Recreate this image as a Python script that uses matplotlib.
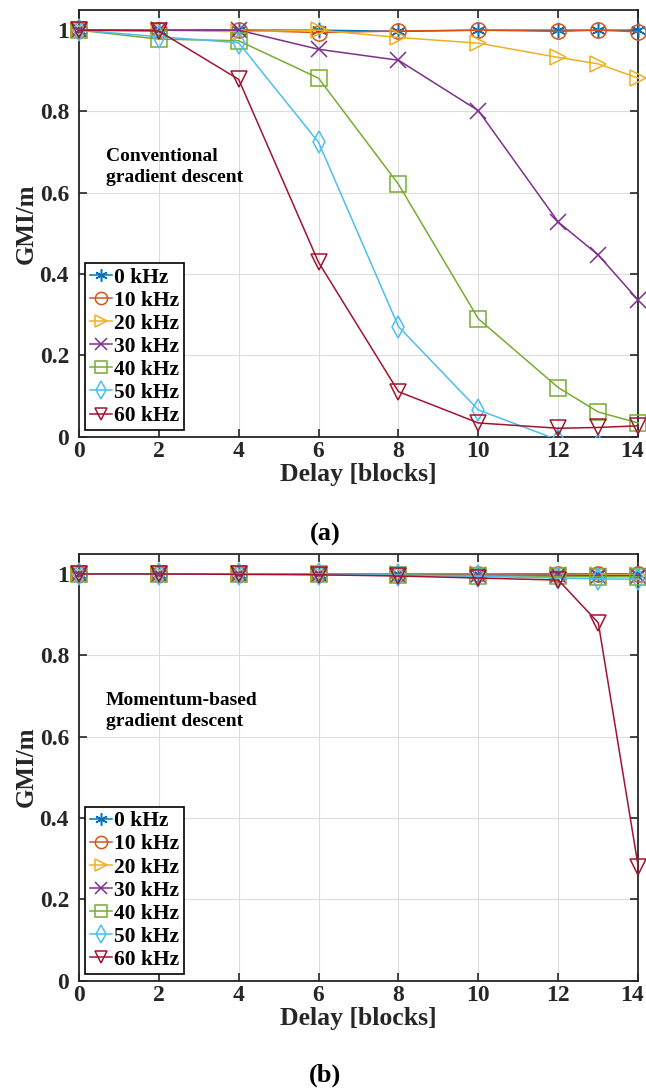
import matplotlib
matplotlib.use('Agg')
import matplotlib.pyplot as plt
import matplotlib.transforms as mtransforms
from matplotlib.patches import Rectangle

plt.rcParams['font.family'] = ['Liberation Serif', 'DejaVu Serif']
plt.rcParams['font.weight'] = 'bold'

delay = [0, 2, 4, 6, 8, 10, 12, 13, 14]
labels = ['0 kHz', '10 kHz', '20 kHz', '30 kHz', '40 kHz', '50 kHz', '60 kHz']

# (a) conventional gradient descent
conv = [
    [1.0, 1.0, 1.0, 1.0, 0.997, 1.0, 1.0, 1.0, 1.0],
    [1.0, 1.0, 1.0, 0.994, 0.998, 1.0, 0.997, 1.0, 0.996],
    [1.0, 1.0, 0.996, 1.0, 0.982, 0.968, 0.933, 0.917, 0.882],
    [1.0, 1.0, 1.0, 0.953, 0.926, 0.802, 0.528, 0.447, 0.336],
    [1.0, 0.978, 0.974, 0.882, 0.621, 0.290, 0.121, 0.061, 0.034],
    [1.0, 0.984, 0.969, 0.724, 0.271, 0.066, -0.008, -0.02, -0.03],
    [1.0, 0.998, 0.879, 0.429, 0.111, 0.034, 0.021, 0.023, 0.027],
]

# (b) momentum-based gradient descent
mom = [
    [1.0, 1.0, 1.0, 1.0, 1.0, 1.0, 1.0, 1.0, 1.0],
    [1.0, 1.0, 1.0, 1.0, 1.0, 1.0, 0.999, 0.999, 0.999],
    [1.0, 1.0, 1.0, 1.0, 0.999, 0.999, 0.998, 0.998, 0.998],
    [1.0, 1.0, 1.0, 0.999, 0.998, 0.997, 0.997, 0.996, 0.996],
    [1.0, 1.0, 1.0, 0.999, 0.998, 0.996, 0.994, 0.993, 0.993],
    [1.0, 1.0, 1.0, 0.999, 0.997, 0.994, 0.99, 0.988, 0.987],
    [1.0, 1.0, 0.999, 0.998, 0.995, 0.99, 0.985, 0.88, 0.28],
]

colors = ['#0072BD', '#D95319', '#EDB120', '#7E2F8E', '#77AC30', '#4DBEEE', '#A2142F']
markers = [(6, 2, 0), 'o', '>', 'x', 's', 'd', 'v']  # first one: MATLAB-style asterisk


def draw(ax, data, note):
    # clip only at the bottom edge, markers may spill over the other sides
    clip = Rectangle((-0.1, 0), 1.2, 1.2, transform=ax.transAxes, visible=False)
    ax.add_patch(clip)
    for vals, c, m, lab in zip(data, colors, markers, labels):
        line, = ax.plot(delay, vals, color=c, marker=m, markersize=11, markerfacecolor='none',
                        markeredgewidth=1.1, lw=1.1, label=lab, zorder=3)
        line.set_clip_path(clip)
    ax.set_xlim(0, 14)
    ax.set_ylim(0, 1.05)
    ax.set_xticks(range(0, 15, 2))
    ax.set_yticks([0, 0.2, 0.4, 0.6, 0.8, 1.0])
    ax.set_yticklabels(['0', '0.2', '0.4', '0.6', '0.8', '1'])
    ax.grid(True, color='#dcdcdc', lw=0.8)
    ax.tick_params(direction='in', top=True, right=True, labelsize=17, length=6,
                   width=1.2, colors='#262626', pad=3)
    ax.tick_params(axis='y', pad=7)
    for s in ax.spines.values():
        s.set_color('#262626')
        s.set_linewidth(1.3)
    ax.set_xlabel('Delay [blocks]', fontsize=18.5, fontweight='bold', color='#262626', labelpad=1)
    ax.set_ylabel('GMI/m', fontsize=18, fontweight='bold', color='#262626', labelpad=1)
    ax.text(0.68, 0.71, note, fontsize=14, fontweight='bold', va='top', ha='left',
            linespacing=1.3)
    leg = ax.legend(loc='lower left', fontsize=15.5, handlelength=1.05, handletextpad=0.1,
                    borderpad=0.2, labelspacing=0.14, borderaxespad=0.3, markerscale=0.8,
                    fancybox=False, framealpha=1)
    leg.get_frame().set_edgecolor('black')
    leg.get_frame().set_linewidth(1.2)


fig = plt.figure(figsize=(6.46, 10.92), dpi=100)
ax1 = fig.add_axes([0.122, 0.600, 0.866, 0.391])
ax2 = fig.add_axes([0.122, 0.102, 0.866, 0.391])

draw(ax1, conv, 'Conventional\ngradient descent')
draw(ax2, mom, 'Momentum-based\ngradient descent')

# keep the last x tick label inside the figure
for ax in (ax1, ax2):
    fig.canvas.draw()
    lab = ax.get_xticklabels()[-1]
    lab.set_transform(lab.get_transform() + mtransforms.ScaledTranslation(-6 / 100, 0, fig.dpi_scale_trans))

fig.text(0.503, 0.511, '(a)', fontsize=19, fontweight='bold', ha='center', va='center')
fig.text(0.503, 0.015, '(b)', fontsize=19, fontweight='bold', ha='center', va='center')

fig.savefig('out.png', dpi=100)
